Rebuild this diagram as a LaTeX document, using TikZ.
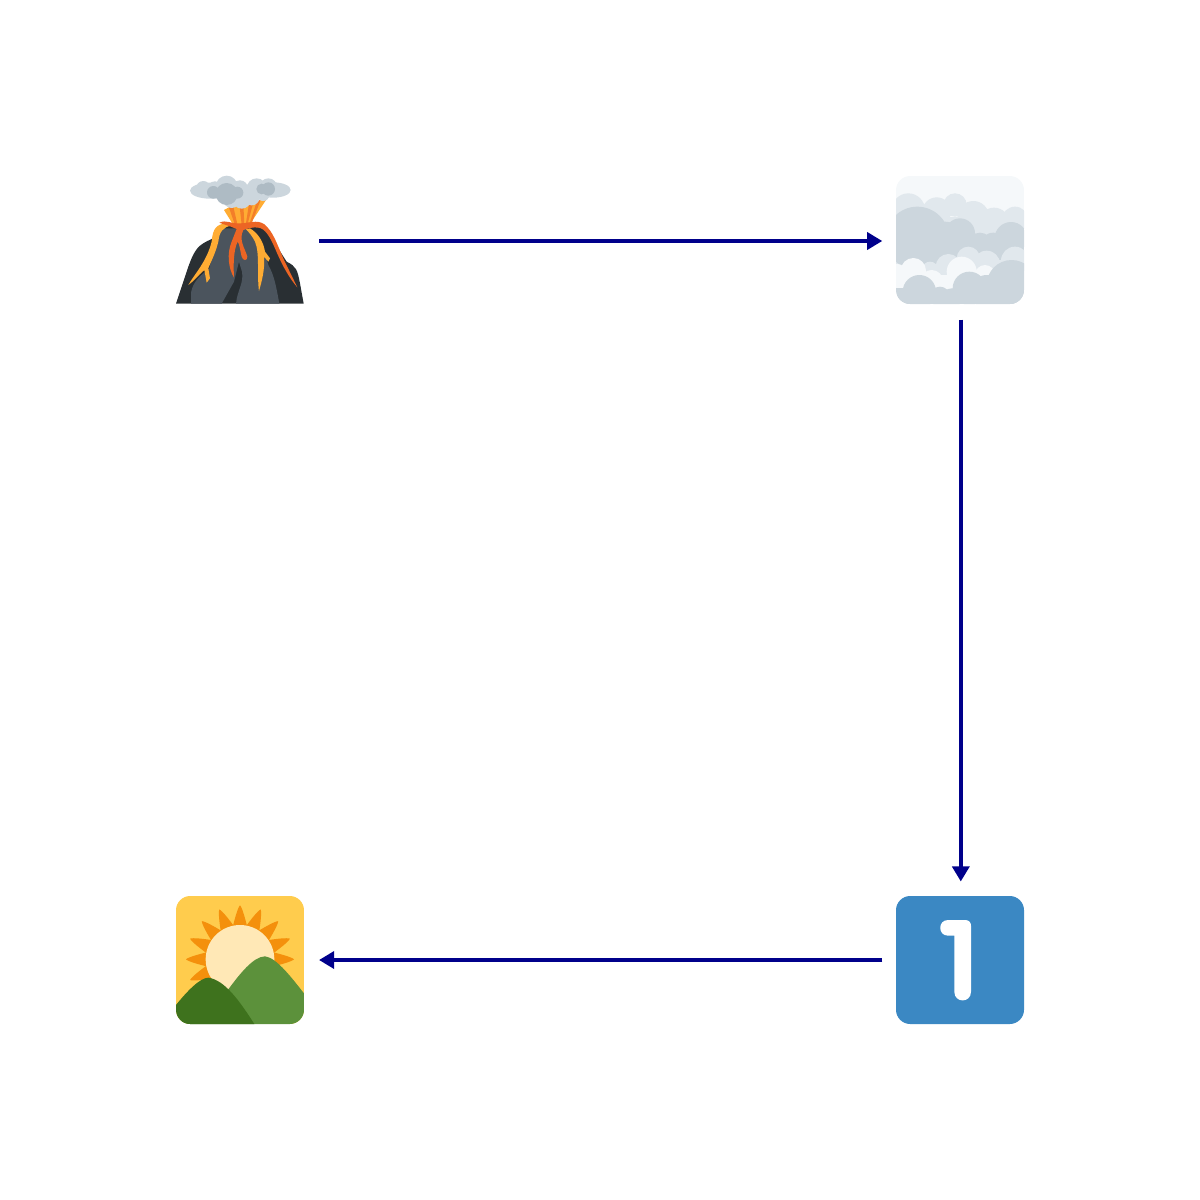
\documentclass[tikz,border=0pt]{standalone}
\usetikzlibrary{arrows.meta}
\definecolor{rockdark}{HTML}{292F33}
\definecolor{rockgray}{HTML}{4B545D}
\definecolor{lavayellow}{HTML}{FFAC33}
\definecolor{lavared}{HTML}{EC6524}
\definecolor{smokelight}{HTML}{CCD6DD}
\definecolor{smokedark}{HTML}{AEBBC4}
\definecolor{cloudwhite}{HTML}{F5F8FA}
\definecolor{cloudmid}{HTML}{E1E8ED}
\definecolor{sunsky}{HTML}{FFCC4D}
\definecolor{sunray}{HTML}{F4900C}
\definecolor{sundisc}{HTML}{FFE8B6}
\definecolor{hillback}{HTML}{5C913B}
\definecolor{hillfront}{HTML}{3E721D}
\definecolor{keyblue}{HTML}{3B88C3}
\definecolor{flowblue}{HTML}{00008B}
\tikzset{
  iconbox/.style={minimum size=157*0.01cm,inner sep=0pt,outer sep=0pt},
  flow/.style={draw=flowblue,line width=1.15pt,-{Triangle[length=4.3pt,width=4.8pt]}},
  zoomed/.style={xscale=1/3,yscale=1/3}
}
\begin{document}
\begin{tikzpicture}[line cap=butt,line join=round,x=0.01cm,y=-0.01cm]
\useasboundingbox (0,0) rectangle (1200,1200);
\node (volcano) [iconbox] at (240.5,241) {};
\node (fog) [iconbox] at (960.8,241) {};
\node (one) [iconbox] at (960.8,960) {};
\node (sunrise) [iconbox] at (240.5,960) {};

%tulivuori
\begin{scope}[shift={(160,160)},zoomed]
\fill[rockdark] (48,431) -- (85,320) .. controls (105,265) and (115,255) .. (155,237)
  -- (185,195) -- (300,197) .. controls (320,205) and (335,225) .. (345,250)
  -- (380,305) .. controls (410,320) and (412,330) .. (420,370) -- (431,431) -- cycle;
\fill[rockgray] (93,431) -- (93,398) .. controls (100,360) and (125,345) .. (148,325)
  -- (165,250) -- (185,205) -- (262,205) -- (222,365) -- (185,431) -- cycle;
\fill[rockgray] (228,431) .. controls (232,390) and (252,370) .. (246,335)
  -- (226,270) -- (240,222) -- (262,208) .. controls (290,235) and (315,270) .. (325,315)
  .. controls (345,350) and (350,390) .. (358,431) -- cycle;
%laava
\fill[lavayellow] (192,150) -- (238,125) -- (318,120) -- (268,195) -- (220,195) -- cycle;
\fill[lavared!65!lavayellow] (206,140) -- (220,140) -- (232,192) -- (224,192) -- cycle
  (238,130) -- (250,130) -- (253,195) -- (245,195) -- cycle
  (268,125) -- (282,120) -- (262,195) -- (257,195) -- cycle
  (292,120) -- (302,120) -- (274,192) -- (268,192) -- cycle;
\fill[lavayellow] (85,375) .. controls (105,340) and (140,305) .. (155,245)
  .. controls (158,205) and (170,192) .. (200,190) -- (215,197)
  .. controls (190,200) and (178,215) .. (175,245)
  .. controls (165,285) and (150,310) .. (145,325) -- (150,355) -- (140,368)
  -- (133,330) .. controls (115,345) and (100,365) .. (85,375) -- cycle;
\fill[lavayellow] (258,208) -- (270,205) .. controls (295,220) and (310,245) .. (315,275)
  -- (330,295) -- (325,305) -- (312,290) .. controls (315,330) and (305,365) .. (297,393)
  .. controls (290,340) and (300,280) .. (285,245) .. controls (278,230) and (268,218) .. (258,208) -- cycle;
\fill[lavared] (178,188) .. controls (200,178) and (210,192) .. (240,190)
  .. controls (265,190) and (290,178) .. (312,192) .. controls (340,215) and (350,250) .. (372,300)
  -- (412,382) .. controls (380,345) and (360,300) .. (345,265)
  .. controls (330,230) and (315,205) .. (295,203) .. controls (280,200) and (265,205) .. (250,210)
  .. controls (235,240) and (255,265) .. (262,290) .. controls (262,305) and (248,302) .. (245,290)
  .. controls (240,270) and (238,250) .. (233,245)
  .. controls (220,270) and (220,320) .. (222,353) .. controls (205,325) and (200,280) .. (215,245)
  -- (230,207) .. controls (210,198) and (195,195) .. (178,188) -- cycle;
%savu
\fill[smokelight] (150,92) ellipse [x radius=60,y radius=24] (340,90) ellipse [x radius=52,y radius=23]
  (130,85) circle [radius=22] (165,90) circle [radius=26] (200,80) circle [radius=33]
  (240,85) circle [radius=24] (290,85) circle [radius=30] (325,82) circle [radius=27]
  (215,118) circle [radius=26] (245,118) circle [radius=28] (275,112) circle [radius=24]
  (310,105) circle [radius=18];
\fill[smokelight] (150,95) rectangle (350,110);
\fill[smokedark] (160,97) circle [radius=19] (200,102) circle [radius=33]
  (232,98) circle [radius=18] (325,87) circle [radius=20] (305,87) circle [radius=16];
\end{scope}

%pilvi
\begin{scope}[shift={(880,160)},zoomed]
\clip[rounded corners=4.05pt] (48,48) rectangle (432,432);
\fill[cloudwhite] (48,48) rectangle (432,432);
\fill[cloudmid] (85,150) circle [radius=50] (170,155) circle [radius=43]
  (225,135) circle [radius=35] (280,170) circle [radius=47] (342,190) circle [radius=47]
  (405,180) circle [radius=40];
\fill[cloudmid] (48,170) rectangle (432,330);
\fill[smokelight] (112,235) circle [radius=95] (195,240) circle [radius=55]
  (240,220) circle [radius=45] (300,255) circle [radius=37] (340,258) circle [radius=40]
  (393,235) circle [radius=49];
\fill[smokelight] (48,240) rectangle (432,300);
\fill[cloudmid] (205,320) circle [radius=38] (265,295) circle [radius=35]
  (320,312) circle [radius=40] (405,302) circle [radius=42] (150,330) circle [radius=25];
\fill[cloudwhite] (52,340) circle [radius=28] (100,332) circle [radius=38]
  (155,365) circle [radius=35] (245,335) circle [radius=45] (315,345) circle [radius=30];
\fill[cloudwhite] (48,345) rectangle (350,400);
\fill[smokelight] (118,395) circle [radius=50] (180,410) circle [radius=30]
  (215,415) circle [radius=30] (268,385) circle [radius=50] (320,395) circle [radius=50]
  (395,375) circle [radius=75];
\fill[smokelight] (48,405) rectangle (432,432);
\fill[smokelight] (48,383) rectangle (90,432);
\fill[smokelight] (300,380) rectangle (432,432);
\end{scope}

%aurinko
\begin{scope}[shift={(160,880)},zoomed]
\clip[rounded corners=4.05pt] (48,48) rectangle (432,432);
\fill[sunsky] (48,48) rectangle (432,432);
\foreach \a in {0,22.5,45,67.5,90,112.5,135,157.5,180,202.5}
{
\fill[sunray,shift={(240,238)}] (-\a:162) .. controls (-\a+2.5:155) and (-\a+7:125) .. (-\a+14:95)
  -- (-\a-14:95) .. controls (-\a-7:125) and (-\a-2.5:155) .. (-\a:162) -- cycle;
}
\fill[sundisc] (240,238) circle [radius=103];
\fill[hillback] (48,432) -- (200,335) .. controls (240,280) and (280,230) .. (315,229)
  .. controls (350,232) and (400,300) .. (432,340) -- (432,432) -- cycle;
\fill[hillfront] (48,375) .. controls (80,335) and (120,293) .. (145,293)
  .. controls (195,300) and (240,365) .. (283,432) -- (48,432) -- cycle;
\end{scope}

%yksi
\begin{scope}[shift={(880,860)},zoomed]
\fill[keyblue,rounded corners=4.05pt] (48,108) rectangle (432,492);
\fill[white] (204,180) -- (256,180) .. controls (266,180) and (273,187) .. (273,197)
  -- (273,395) .. controls (273,430) and (223,430) .. (223,395) -- (223,227) -- (204,227)
  .. controls (173,227) and (173,180) .. (204,180) -- cycle;
\end{scope}

%nuolet
\draw[flow] (volcano) -- (fog);
\draw[flow] (fog) -- (one);
\draw[flow] (one) -- (sunrise);
\end{tikzpicture}
\end{document}
